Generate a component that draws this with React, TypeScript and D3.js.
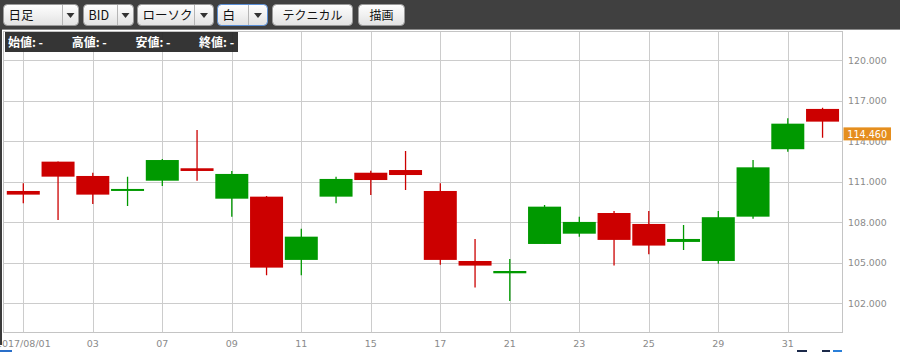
import React from "react";
import * as d3 from "d3";

const dates = ["2017/08/01","02","03","04","07","08","09","10","11","14","15","16","17","18","21","22","23","24","25","28","29","30","31","09/01"];
const tickLabels = ["2017/08/01","03","07","09","11","15","17","21","23","25","29","31"];
const opens  = [110.31,112.48,111.42,110.33,111.07,111.99,109.74,109.89,105.21,109.89,111.66,111.86,110.31,105.13,104.22,106.39,107.15,108.68,107.87,106.54,105.13,108.41,113.40,116.38];
const highs  = [110.88,112.50,111.66,111.37,112.68,114.82,111.79,109.94,107.52,111.37,111.81,113.27,110.88,106.76,105.28,109.28,108.41,108.83,108.83,107.80,108.83,112.60,115.69,116.47];
const lows   = [109.40,108.17,109.35,109.20,110.68,111.07,108.41,104.08,104.08,109.40,110.01,110.38,104.86,103.16,102.17,106.39,106.93,104.79,105.63,105.94,104.93,108.26,113.22,114.25];
const closes = [110.04,111.37,110.04,110.46,112.60,111.79,111.57,104.64,106.93,111.20,111.12,111.49,105.21,104.79,104.39,109.15,108.02,106.69,106.27,106.76,108.37,112.06,115.29,115.44];
const yTicks = [102,105,108,111,114,117,120];
const lastPrice = 114.46;
const infoLabels = ["始値: -", "高値: -", "安値: -", "終値: -"];

const W = 900, H = 352;
const plotL = 3.5, plotR = 842.5, plotT = 31.5, plotB = 332.5;

export default function App() {
  const x = d3.scalePoint<string>().domain(dates).range([23.3, 822.55]);
  const y = d3.scaleLinear().domain([102, 120]).range([303.3, 60]);
  const bodyW = 33;
  const up = "#009900", down = "#cc0000";
  const jp = "'Noto Sans CJK JP', 'Noto Sans', sans-serif";
  const axisFont = "'DejaVu Sans', Verdana, sans-serif";

  const selects = [
    { x: 3.5, w: 75, arrowW: 16, label: "日足", focus: false },
    { x: 83.5, w: 50, arrowW: 16, label: "BID", focus: false },
    { x: 137.5, w: 76, arrowW: 19, label: "ローソク", focus: false },
    { x: 217.5, w: 50, arrowW: 19, label: "白", focus: true },
  ];
  const buttons = [
    { x: 272.5, w: 80, label: "テクニカル" },
    { x: 358.5, w: 46, label: "描画" },
  ];

  return (
    <svg width={W} height={H} style={{ position: "absolute", left: 0, top: 0, background: "#fff" }}>
      <defs>
        <linearGradient id="btn" x1="0" y1="0" x2="0" y2="1">
          <stop offset="0" stopColor="#ffffff" />
          <stop offset="1" stopColor="#e2e2e2" />
        </linearGradient>
        <clipPath id="plotClip">
          <rect x={plotL} y={plotT} width={plotR - plotL} height={plotB - plotT} />
        </clipPath>
      </defs>

      {/* toolbar */}
      <rect x={0} y={0} width={W} height={29} fill="#404040" />
      <line x1={0} x2={W} y1={29.5} y2={29.5} stroke="#8a8a8a" />
      {selects.map((s, i) => (
        <g key={"s" + i}>
          <rect x={s.x} y={4.5} width={s.w} height={21} rx={4} fill="url(#btn)" stroke={s.focus ? "#5b8fd6" : "#9a9a9a"} />
          <line x1={s.x + s.w - s.arrowW} x2={s.x + s.w - s.arrowW} y1={5} y2={25} stroke="#b5b5b5" />
          <path d={`M${s.x + s.w - s.arrowW / 2 - 4},13 L${s.x + s.w - s.arrowW / 2 + 4},13 L${s.x + s.w - s.arrowW / 2},18 Z`} fill="#333" />
          <text x={s.x + 5} y={20} fontFamily={jp} fontSize={12.5} fill="#111">{s.label}</text>
        </g>
      ))}
      {buttons.map((b, i) => (
        <g key={"b" + i}>
          <rect x={b.x} y={4.5} width={b.w} height={21} rx={4} fill="url(#btn)" stroke="#9a9a9a" />
          <text x={b.x + b.w / 2} y={20} textAnchor="middle" fontFamily={jp} fontSize={12} fill="#111">{b.label}</text>
        </g>
      ))}

      {/* plot area */}
      <rect x={plotL} y={plotT} width={plotR - plotL} height={plotB - plotT} fill="#fff" stroke="#c4c4c4" />
      <g clipPath="url(#plotClip)">
        {yTicks.map((t) => (
          <line key={"h" + t} x1={plotL} x2={plotR} y1={Math.round(y(t)) + 0.5} y2={Math.round(y(t)) + 0.5} stroke="#cccccc" />
        ))}
        {dates.map((d, i) => i % 2 === 0 ? (
          <line key={"v" + i} x1={Math.round(x(d)!) + 0.5} x2={Math.round(x(d)!) + 0.5} y1={plotT} y2={plotB} stroke="#cccccc" />
        ) : null)}
        {dates.map((d, i) => {
          const o = opens[i], c = closes[i], hi = highs[i], lo = lows[i];
          const col = c >= o ? up : down;
          const cx = x(d)!;
          const top = y(Math.max(o, c));
          const bh = Math.max(2, y(Math.min(o, c)) - top);
          return (
            <g key={"c" + i}>
              <line x1={cx} x2={cx} y1={y(hi)} y2={y(lo)} stroke={col} strokeWidth={1.3} />
              <rect x={cx - bodyW / 2} y={top} width={bodyW} height={bh} fill={col} />
            </g>
          );
        })}
      </g>

      {/* info box */}
      <rect x={5} y={32} width={233} height={20} fill="#262626" fillOpacity={0.93} />
      {infoLabels.map((t, i) => (
        <text key={"i" + i} x={8 + i * 63.7} y={46.5} fontFamily={jp} fontWeight="bold" fontSize={12} fill="#fff">{t}</text>
      ))}

      {/* y axis labels */}
      {yTicks.map((t) => (
        <text key={"yl" + t} x={848} y={y(t) + 3.5} fontFamily={axisFont} fontSize={9.4} fill="#8a8a8a">{t.toFixed(3)}</text>
      ))}
      <rect x={843.5} y={y(lastPrice) - 7.5} width={47.5} height={13} fill="#e58e1e" />
      <text x={867.2} y={y(lastPrice) + 3} textAnchor="middle" fontFamily={axisFont} fontSize={9.6} fill="#fff">{lastPrice.toFixed(3)}</text>

      {/* x axis labels */}
      {dates.map((d, i) => {
        if (i % 2 !== 0) return null;
        const lbl = tickLabels[i / 2];
        if (!lbl) return null;
        return <text key={"xl" + i} x={x(d)!} y={346.5} textAnchor="middle" fontFamily={axisFont} fontSize={9.5} fill="#8a8a8a">{lbl}</text>;
      })}

      {/* left edge and bottom icon fragments */}
      <rect x={0} y={29} width={2} height={316} fill="#3a3a3a" />
      <rect x={0} y={350} width={12} height={2} fill="#2a6fc9" />
      <rect x={797} y={350} width={10} height={2} fill="#1c2a4a" />
      <rect x={822} y={350} width={8} height={2} fill="#1c2a4a" />
      <rect x={833} y={350} width={9} height={2} fill="#2a7fd9" />
    </svg>
  );
}
